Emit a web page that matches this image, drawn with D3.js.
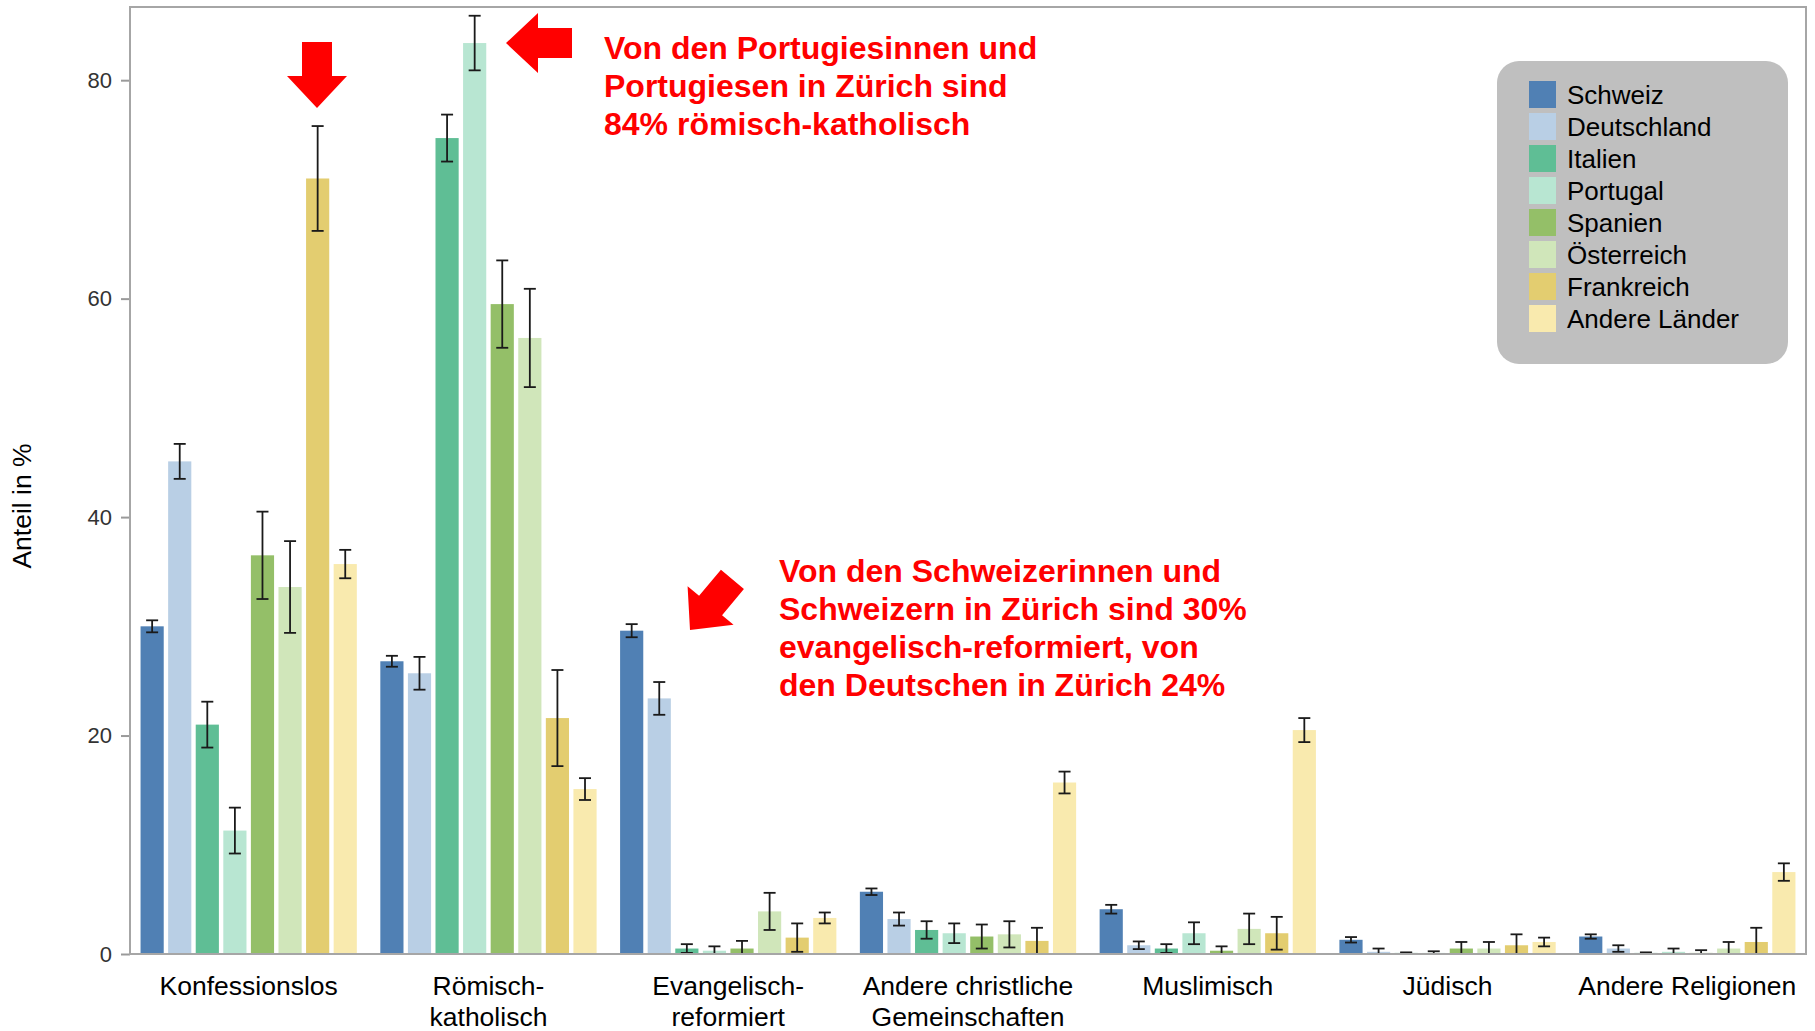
<!DOCTYPE html>
<html>
<head>
<meta charset="utf-8">
<script src="https://cdn.jsdelivr.net/npm/d3@7/dist/d3.min.js"></script>
<style>
  body { margin: 0; background: #fff; }
  text { font-family: "Liberation Sans", Arial, sans-serif; }
</style>
</head>
<body>
<div id="chart"></div>
<script>
// religion groups on the x axis ("\n" = line break in the label)
var categories = ["Konfessionslos", "Römisch-\nkatholisch", "Evangelisch-\nreformiert",
  "Andere christliche\nGemeinschaften", "Muslimisch", "Jüdisch", "Andere Religionen"];

var countries = ["Schweiz", "Deutschland", "Italien", "Portugal", "Spanien", "Österreich", "Frankreich", "Andere Länder"];
var colors = ["#5080b4", "#b9cfe5", "#5fbe95", "#b8e6d2", "#94bf68", "#d0e6ba", "#e3cd70", "#f9eaae"];

// share in % per country, one value per category
var schweiz     = [30.0, 26.8, 29.6, 5.7, 4.1, 1.3, 1.6];
var deutschland = [45.1, 25.7, 23.4, 3.2, 0.8, 0.2, 0.5];
var italien     = [21.0, 74.7, 0.5, 2.2, 0.5, 0.1, 0.1];
var portugal    = [11.3, 83.4, 0.3, 1.9, 1.9, 0.1, 0.2];
var spanien     = [36.5, 59.5, 0.5, 1.6, 0.3, 0.5, 0.1];
var oesterreich = [33.6, 56.4, 3.9, 1.8, 2.3, 0.5, 0.5];
var frankreich  = [71.0, 21.6, 1.5, 1.2, 1.9, 0.8, 1.1];
var andere      = [35.7, 15.1, 3.3, 15.7, 20.5, 1.1, 7.5];

// half width of the confidence interval
var errSchweiz     = [0.55, 0.5, 0.6, 0.3, 0.4, 0.25, 0.2];
var errDeutschland = [1.6, 1.5, 1.5, 0.6, 0.35, 0.3, 0.3];
var errItalien     = [2.1, 2.15, 0.4, 0.8, 0.4, 0.05, 0.05];
var errPortugal    = [2.1, 2.5, 0.4, 0.9, 1.0, 0.15, 0.3];
var errSpanien     = [4.0, 4.0, 0.7, 1.1, 0.4, 0.6, 0.25];
var errOesterreich = [4.2, 4.5, 1.7, 1.2, 1.4, 0.6, 0.6];
var errFrankreich  = [4.8, 4.4, 1.3, 1.2, 1.5, 1.0, 1.3];
var errAndere      = [1.3, 1.0, 0.5, 1.0, 1.1, 0.4, 0.8];

var yTicks = [0, 20, 40, 60, 80];

var notePortugal = ["Von den Portugiesinnen und", "Portugiesen in Zürich sind", "84% römisch-katholisch"];
var noteSchweiz = ["Von den Schweizerinnen und", "Schweizern in Zürich sind 30%",
  "evangelisch-reformiert, von", "den Deutschen in Zürich 24%"];

var series = [schweiz, deutschland, italien, portugal, spanien, oesterreich, frankreich, andere];
var errors = [errSchweiz, errDeutschland, errItalien, errPortugal, errSpanien, errOesterreich, errFrankreich, errAndere];

var W = 1815, H = 1031;
var margin = {top: 7, right: 9, bottom: 77, left: 130};

var svg = d3.select("#chart").append("svg")
    .attr("width", W)
    .attr("height", H);

var x0 = d3.scaleBand()
    .domain(categories)
    .range([margin.left, W - margin.right])
    .paddingInner(0.098)
    .paddingOuter(0.044);

var x1 = d3.scaleBand()
    .domain(countries)
    .range([0, x0.bandwidth()])
    .paddingInner(0.16)
    .paddingOuter(0);

var y = d3.scaleLinear()
    .domain([0, 86.7])
    .range([H - margin.bottom, margin.top]);

var color = d3.scaleOrdinal().domain(countries).range(colors);

// flat table for the bars
var rows = [];
categories.forEach(function(cat, i) {
  countries.forEach(function(c, j) {
    rows.push({cat: cat, country: c, value: series[j][i], err: errors[j][i]});
  });
});

// y axis
var yAxis = svg.append("g")
    .attr("transform", "translate(" + margin.left + ",0)")
    .call(d3.axisLeft(y).tickValues(yTicks).tickSize(9).tickPadding(9));
yAxis.select(".domain").remove();
yAxis.selectAll(".tick line").attr("stroke", "#9a9a9a").attr("stroke-width", 2);
yAxis.selectAll(".tick text")
    .attr("fill", "#333")
    .style("font-size", "22px")
    .style("font-family", "'Liberation Sans', Arial, sans-serif");

svg.append("text")
    .attr("transform", "translate(31,506) rotate(-90)")
    .attr("text-anchor", "middle")
    .style("font-size", "26.5px")
    .attr("fill", "#000")
    .text("Anteil in %");

// bars
var group = svg.selectAll(".grp")
    .data(categories)
  .enter().append("g")
    .attr("class", "grp")
    .attr("transform", function(d) { return "translate(" + x0(d) + ",0)"; });

group.selectAll("rect")
    .data(function(d) { return rows.filter(function(r) { return r.cat === d; }); })
  .enter().append("rect")
    .attr("x", function(d) { return x1(d.country); })
    .attr("y", function(d) { return y(d.value); })
    .attr("width", x1.bandwidth())
    .attr("height", function(d) { return y(0) - y(d.value); })
    .attr("fill", function(d) { return color(d.country); });

// error bars
var cap = 6;
var eb = group.selectAll(".err")
    .data(function(d) { return rows.filter(function(r) { return r.cat === d; }); })
  .enter().append("g")
    .attr("class", "err")
    .attr("transform", function(d) { return "translate(" + (x1(d.country) + x1.bandwidth() / 2) + ",0)"; })
    .attr("stroke", "#1a1a1a")
    .attr("stroke-width", 1.8);

eb.append("line")
    .attr("y1", function(d) { return y(d.value + d.err); })
    .attr("y2", function(d) { return y(Math.max(0, d.value - d.err)); });
eb.append("line")
    .attr("x1", -cap).attr("x2", cap)
    .attr("y1", function(d) { return y(d.value + d.err); })
    .attr("y2", function(d) { return y(d.value + d.err); });
eb.append("line")
    .attr("x1", -cap).attr("x2", cap)
    .attr("y1", function(d) { return y(Math.max(0, d.value - d.err)); })
    .attr("y2", function(d) { return y(Math.max(0, d.value - d.err)); });

// frame
svg.append("rect")
    .attr("x", margin.left)
    .attr("y", margin.top)
    .attr("width", W - margin.right - margin.left)
    .attr("height", y(0) - margin.top)
    .attr("fill", "none")
    .attr("stroke", "#a6a6a6")
    .attr("stroke-width", 2);

// category labels
svg.selectAll(".cat")
    .data(categories)
  .enter().append("text")
    .attr("class", "cat")
    .attr("text-anchor", "middle")
    .attr("x", function(d) { return x0(d) + x0.bandwidth() / 2; })
    .attr("y", y(0) + 41)
    .style("font-size", "26.5px")
    .attr("fill", "#000")
    .each(function(d) {
      var t = d3.select(this);
      d.split("\n").forEach(function(line, i) {
        t.append("tspan")
          .attr("x", x0(d) + x0.bandwidth() / 2)
          .attr("dy", i === 0 ? 0 : 31)
          .text(line);
      });
    });

// legend
var lg = svg.append("g").attr("transform", "translate(1497,61)");
lg.append("rect")
    .attr("width", 291)
    .attr("height", 303)
    .attr("rx", 22)
    .attr("fill", "#bfbfbf");
var item = lg.selectAll(".item")
    .data(countries)
  .enter().append("g")
    .attr("class", "item")
    .attr("transform", function(d, i) { return "translate(32," + (20 + i * 32) + ")"; });
item.append("rect")
    .attr("width", 27)
    .attr("height", 27)
    .attr("fill", function(d) { return color(d); });
item.append("text")
    .attr("x", 38)
    .attr("y", 23)
    .style("font-size", "26px")
    .attr("fill", "#000")
    .text(function(d) { return d; });

// red annotations
var arrowShape = [[0, -15], [34, -15], [34, -30], [66, 0], [34, 30], [34, 15], [0, 15]];
var arrows = [
  {x: 317, y: 108, angle: 90},
  {x: 506, y: 43, angle: 180},
  {x: 690, y: 630, angle: 130}
];
svg.selectAll(".arrow")
    .data(arrows)
  .enter().append("polygon")
    .attr("class", "arrow")
    .attr("points", arrowShape.map(function(p) { return p.join(","); }).join(" "))
    .attr("transform", function(d) { return "translate(" + d.x + "," + d.y + ") rotate(" + d.angle + ") translate(-66,0)"; })
    .attr("fill", "#ff0000");

function note(lines, x, yBase) {
  var t = svg.append("text")
      .attr("x", x)
      .attr("y", yBase)
      .attr("fill", "#ff0000")
      .style("font-size", "32px")
      .style("font-weight", "bold");
  lines.forEach(function(line, i) {
    t.append("tspan").attr("x", x).attr("dy", i === 0 ? 0 : 38.3).text(line);
  });
}
note(notePortugal, 604, 58.5);
note(noteSchweiz, 779, 581.5);
</script>
</body>
</html>
